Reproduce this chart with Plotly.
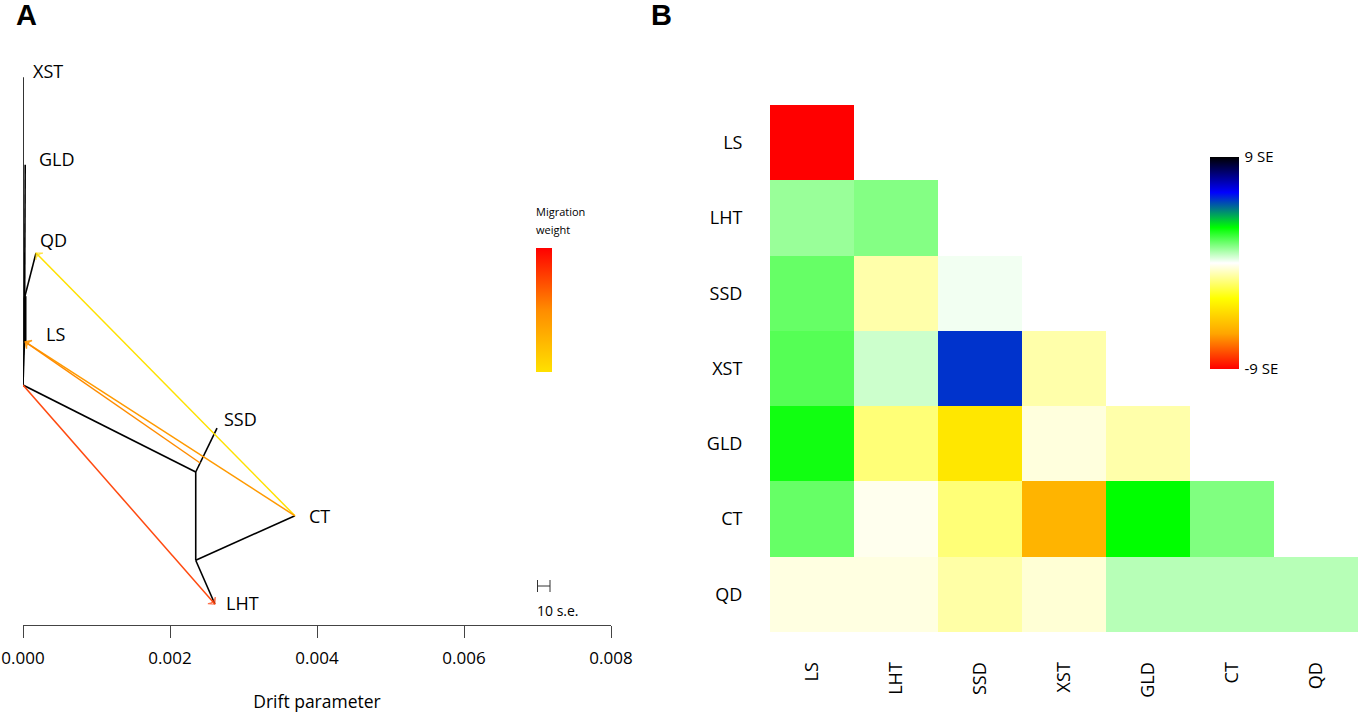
import plotly.graph_objects as go

W, H = 1358, 713
FONT = "Open Sans"

# --- panel A : tree (drift, height)
tree_edges = [
    ("root", "XST"), ("root", "LSn"), ("LSn", "GLD"), ("LSn", "QDn"),
    ("QDn", "QD"), ("root", "n1"), ("n1", "SSD"), ("n1", "n2"),
    ("n2", "CT"), ("n2", "LHT"),
]
node_x = {"root": 0.0, "XST": 0.0, "LSn": 0.00002, "GLD": 0.00003, "QDn": 0.00002,
          "QD": 0.000177, "n1": 0.00235, "SSD": 0.00264, "n2": 0.00235,
          "CT": 0.0037, "LHT": 0.00261, "LS": 0.00003}
node_y = {"root": 0.4, "XST": 0.913, "LSn": 0.472, "GLD": 0.767, "QDn": 0.545,
          "QD": 0.62, "n1": 0.255, "SSD": 0.328, "n2": 0.108,
          "CT": 0.182, "LHT": 0.035, "LS": 0.472}
# overlapping short branches read as a heavier stem
thick_x = [0.00003, 0.00003]
thick_y = [0.472, 0.548]

# migration edges : start and end, weight 0 (yellow) to 1 (red)
mig_x0 = [0.0037, 0.0037, 0.00241, 0.0]
mig_y0 = [0.182, 0.182, 0.27, 0.4]
mig_x1 = [0.000177, 0.00003, 0.00003, 0.00261]
mig_y1 = [0.62, 0.472, 0.472, 0.035]
mig_weight = [0.05, 0.45, 0.45, 0.8]
mig_color = ["#ffe100", "#ff9a00", "#ff8c00", "#ff4a10"]

tip_labels = ["XST", "GLD", "QD", "LS", "SSD", "CT", "LHT"]
drift_ticks = [0.0, 0.002, 0.004, 0.006, 0.008]
scale_x = [0.00700, 0.00717]
scale_y = [0.065, 0.065]

# --- panel B : residuals in s.e.
pops = ["LS", "LHT", "SSD", "XST", "GLD", "CT", "QD"]
resid = [
    [-9.0, None, None, None, None, None, None],
    [1.2, 1.45, None, None, None, None, None],
    [1.8, -1.0, 0.15, None, None, None, None],
    [2.0, 0.6, 5.4, -1.0, None, None, None],
    [2.8, -1.6, -3.8, -0.4, -1.0, None, None],
    [1.8, -0.2, -1.6, -5.5, 3.0, 1.5, None],
    [-0.35, -0.35, -1.05, -0.5, 0.85, 0.85, 0.85],
]
resid_scale = [
    [0, "#ff0000"], [1 / 6, "#ffa500"], [2 / 6, "#ffff00"], [3 / 6, "#ffffff"],
    [4 / 6, "#00ff00"], [5 / 6, "#0000ff"], [1, "#000000"],
]
mig_scale = [[0, "#ffe100"], [0.5, "#ff8c00"], [1, "#ff0000"]]


def px(x):
    return x / W


def py(y):
    return 1 - y / H


fig = go.Figure()

for a, b in tree_edges:
    fig.add_trace(go.Scatter(
        x=[node_x[a], node_x[b]], y=[node_y[a], node_y[b]], mode="lines",
        line=dict(color="black", width=1.6), showlegend=False, hoverinfo="skip",
    ))
fig.add_trace(go.Scatter(
    x=thick_x, y=thick_y, mode="lines",
    line=dict(color="black", width=2.6), showlegend=False, hoverinfo="skip",
))

for i in range(len(mig_x0)):
    fig.add_trace(go.Scatter(
        x=[mig_x0[i], mig_x1[i]], y=[mig_y0[i], mig_y1[i]], mode="lines+markers",
        line=dict(color=mig_color[i], width=1.5),
        marker=dict(
            symbol="arrow-wide-open", size=[0, 7], angleref="previous",
            color=[mig_weight[i], mig_weight[i]], coloraxis="coloraxis2",
            line=dict(width=1.2),
        ),
        showlegend=False, hoverinfo="skip",
    ))

# 10 s.e. bar
fig.add_trace(go.Scatter(
    x=scale_x, y=scale_y, mode="lines",
    line=dict(color="#333333", width=1),
    error_y=dict(type="constant", value=0.01, width=0, thickness=1, color="#333333"),
    showlegend=False, hoverinfo="skip",
))

fig.add_trace(go.Heatmap(
    z=resid, x=pops, y=pops, coloraxis="coloraxis", xaxis="x2", yaxis="y2",
    hoverongaps=False,
))

label_pos = {"XST": (48, 71), "GLD": (56.5, 159), "QD": (53, 240), "LS": (55, 334),
             "SSD": (240.5, 419), "CT": (319.5, 516), "LHT": (242, 603)}
ann = []
for name in tip_labels:
    ann.append(dict(x=px(label_pos[name][0]), y=py(label_pos[name][1]), text=name,
                    showarrow=False, font=dict(size=18, color="black"),
                    xanchor="center", yanchor="middle"))
ann += [
    dict(x=px(26), y=1, text="<b>A</b>", showarrow=False, xanchor="center", yanchor="top",
         yshift=3, font=dict(size=29, family="Liberation Sans", color="black")),
    dict(x=px(661), y=1, text="<b>B</b>", showarrow=False, xanchor="center", yanchor="top",
         yshift=3, font=dict(size=29, family="Liberation Sans", color="black")),
    dict(x=px(560), y=py(211), text="Migration", showarrow=False,
         xanchor="center", yanchor="middle", font=dict(size=11, color="black")),
    dict(x=px(553), y=py(229), text="weight", showarrow=False,
         xanchor="center", yanchor="middle", font=dict(size=11, color="black")),
    dict(x=px(558), y=py(610), text="10 s.e.", showarrow=False,
         xanchor="center", yanchor="middle", font=dict(size=14, color="black")),
]
for a in ann:
    a.update(xref="paper", yref="paper")

fig.update_layout(
    width=W, height=H, margin=dict(l=0, r=0, t=0, b=0),
    paper_bgcolor="white", plot_bgcolor="white",
    font=dict(family=FONT, color="black"),
    showlegend=False, annotations=ann,
    xaxis=dict(
        domain=[px(23), px(611)], range=[0, 0.008], tickvals=drift_ticks,
        tickformat=".3f", ticks="outside", ticklen=12, tickcolor="#444444",
        showline=True, linecolor="#444444", linewidth=1, showgrid=False, zeroline=False,
        tickfont=dict(size=17), automargin=False, ticklabelstandoff=6,
        title=dict(text="Drift parameter", font=dict(size=17.5), standoff=29),
    ),
    yaxis=dict(domain=[py(625), py(25)], range=[0, 1], visible=False, automargin=False),
    xaxis2=dict(
        domain=[px(770), 1], anchor="y2", type="category", categoryorder="array",
        categoryarray=pops, tickangle=-90, ticks="outside", ticklen=22,
        tickcolor="rgba(0,0,0,0)", showgrid=False, zeroline=False,
        tickfont=dict(size=18), automargin=False,
    ),
    yaxis2=dict(
        domain=[py(632), py(105)], anchor="x2", type="category", categoryorder="array",
        categoryarray=pops, autorange="reversed", ticks="outside", ticklen=23,
        tickcolor="rgba(0,0,0,0)", showgrid=False, zeroline=False,
        tickfont=dict(size=18), automargin=False,
    ),
    coloraxis=dict(
        colorscale=resid_scale, cmin=-9, cmax=9,
        colorbar=dict(
            x=px(1210), xanchor="left", xpad=0, ypad=0,
            y=py(369), yanchor="bottom", len=212 / H, lenmode="fraction",
            thickness=29, thicknessmode="pixels", outlinewidth=0,
            tickvals=[9, -9], ticktext=["9 SE", "-9 SE"], ticks="outside",
            ticklen=3, tickcolor="rgba(0,0,0,0)",
            tickfont=dict(size=15),
        ),
    ),
    coloraxis2=dict(
        colorscale=mig_scale, cmin=0, cmax=1,
        colorbar=dict(
            x=px(536), xanchor="left", xpad=0, ypad=0,
            y=py(372), yanchor="bottom", len=124 / H, lenmode="fraction",
            thickness=16, thicknessmode="pixels", outlinewidth=0,
            showticklabels=False, ticks="",
        ),
    ),
)

# the page keeps its default body margin otherwise and shifts the figure
fig.write_html("out.html", config={"displayModeBar": False},
               post_script="document.body.style.margin='0';")
